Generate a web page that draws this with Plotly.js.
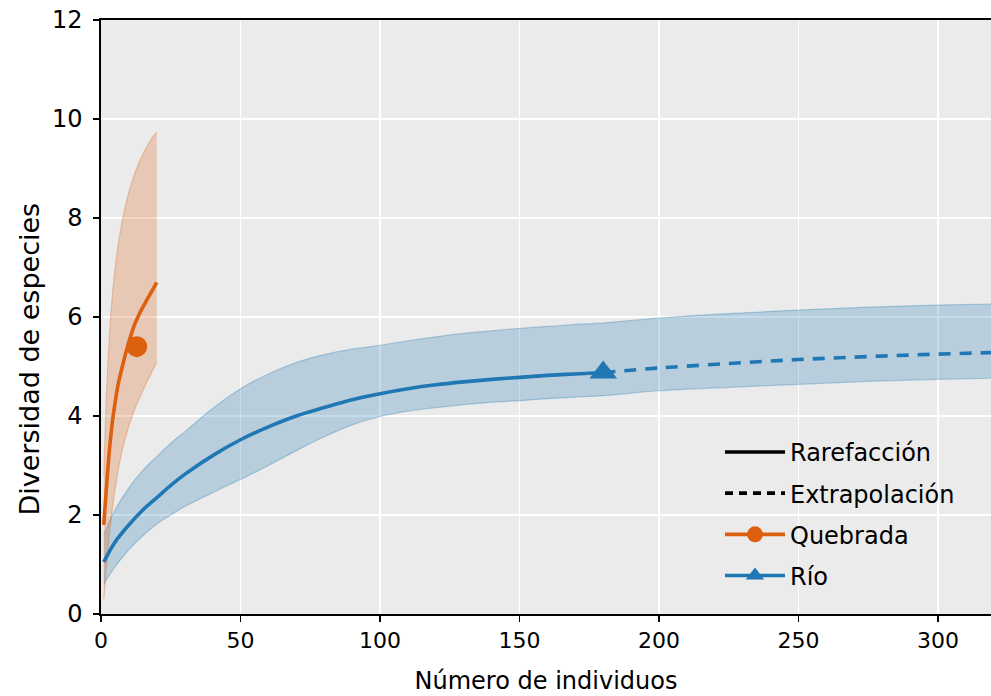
<!DOCTYPE html>
<html>
<head>
<meta charset="utf-8">
<script src="https://cdn.plot.ly/plotly-3.0.1.min.js"></script>
<style>
  html, body { margin: 0; padding: 0; background: #ffffff; }
  #chart { width: 991px; height: 696px; }
</style>
</head>
<body>
<div id="chart"></div>
<script>
// ---- Data ----
// Quebrada (rarefaction)
const quebradaX     = [1, 2, 3, 4, 5, 6, 7, 8, 9, 10, 11, 12, 13, 14, 15, 16, 17, 18, 19, 20];
const quebradaY     = [1.8, 2.6, 3.3, 3.85, 4.25, 4.6, 4.85, 5.08, 5.3, 5.5, 5.68, 5.84, 5.97, 6.09, 6.2, 6.3, 6.4, 6.5, 6.6, 6.7];
const quebradaUpper = [2.8, 4.5, 5.6, 6.4, 6.95, 7.4, 7.75, 8.05, 8.3, 8.52, 8.71, 8.88, 9.03, 9.17, 9.29, 9.4, 9.5, 9.59, 9.67, 9.73];
const quebradaLower = [0.3, 1.0, 1.6, 2.1, 2.5, 2.85, 3.15, 3.4, 3.6, 3.8, 3.97, 4.12, 4.26, 4.39, 4.51, 4.63, 4.75, 4.86, 4.98, 5.1];
const quebradaObsX  = [12.8];
const quebradaObsY  = [5.4];

// Río (rarefaction)
const rioRareX     = [1, 5, 10, 15, 20, 25, 30, 40, 50, 60, 70, 80, 90, 100, 110, 120, 130, 140, 150, 160, 170, 180];
const rioRareY     = [1.05, 1.45, 1.8, 2.1, 2.35, 2.6, 2.82, 3.2, 3.52, 3.78, 4.0, 4.17, 4.33, 4.45, 4.55, 4.63, 4.69, 4.74, 4.78, 4.82, 4.85, 4.88];
const rioRareUpper = [1.6, 2.1, 2.55, 2.9, 3.18, 3.45, 3.68, 4.15, 4.55, 4.85, 5.08, 5.24, 5.35, 5.43, 5.52, 5.6, 5.67, 5.72, 5.77, 5.81, 5.85, 5.88];
const rioRareLower = [0.6, 0.95, 1.3, 1.58, 1.82, 2.0, 2.17, 2.45, 2.72, 3.0, 3.3, 3.58, 3.82, 3.99, 4.1, 4.17, 4.23, 4.28, 4.31, 4.35, 4.38, 4.41];
// Río (extrapolation)
const rioExtX     = [180, 200, 225, 250, 275, 300, 325, 350, 360];
const rioExtY     = [4.88, 4.97, 5.06, 5.14, 5.2, 5.25, 5.29, 5.32, 5.33];
const rioExtUpper = [5.88, 5.98, 6.07, 6.14, 6.2, 6.24, 6.27, 6.29, 6.3];
const rioExtLower = [4.41, 4.51, 4.58, 4.64, 4.7, 4.74, 4.77, 4.79, 4.8];
const rioObsX = [180];
const rioObsY = [4.88];

// Ticks / labels
const xTicks = [0, 50, 100, 150, 200, 250, 300];
const yTicks = [0, 2, 4, 6, 8, 10, 12];
const legendLabels = ['Rarefacción', 'Extrapolación', 'Quebrada', 'Río'];
const xTitle = 'Número de individuos';
const yTitle = 'Diversidad de especies';

// ---- Styles ----
const ORANGE = '#dd6010';
const BLUE = '#1f77b4';
const FONT = 'DejaVu Sans, sans-serif';

const rioBandX = rioRareX.concat(rioExtX.slice(1));
const rioBandUp = rioRareUpper.concat(rioExtUpper.slice(1));
const rioBandLo = rioRareLower.concat(rioExtLower.slice(1));

const traces = [
  // Río band
  { x: rioBandX, y: rioBandLo, type: 'scatter', mode: 'lines',
    line: { color: 'rgba(31,119,180,0.3)', width: 1.2, shape: 'spline' },
    showlegend: false, hoverinfo: 'skip' },
  { x: rioBandX, y: rioBandUp, type: 'scatter', mode: 'lines', fill: 'tonexty',
    fillcolor: 'rgba(31,119,180,0.25)', line: { color: 'rgba(31,119,180,0.3)', width: 1.2, shape: 'spline' },
    showlegend: false, hoverinfo: 'skip' },
  // Quebrada band
  { x: quebradaX, y: quebradaLower, type: 'scatter', mode: 'lines',
    line: { color: 'rgba(221,96,16,0.3)', width: 1.2, shape: 'spline' },
    showlegend: false, hoverinfo: 'skip' },
  { x: quebradaX, y: quebradaUpper, type: 'scatter', mode: 'lines', fill: 'tonexty',
    fillcolor: 'rgba(221,96,16,0.25)', line: { color: 'rgba(221,96,16,0.3)', width: 1.2, shape: 'spline' },
    showlegend: false, hoverinfo: 'skip' },
  // Lines
  { x: rioRareX, y: rioRareY, type: 'scatter', mode: 'lines',
    line: { color: BLUE, width: 3.6, shape: 'spline' }, showlegend: false },
  { x: rioExtX, y: rioExtY, type: 'scatter', mode: 'lines',
    line: { color: BLUE, width: 3.6, dash: '12px,9px', shape: 'spline' }, showlegend: false },
  { x: quebradaX, y: quebradaY, type: 'scatter', mode: 'lines',
    line: { color: ORANGE, width: 3.6, shape: 'spline' }, showlegend: false },
  { x: quebradaObsX, y: quebradaObsY, type: 'scatter', mode: 'markers',
    marker: { color: ORANGE, size: 21, symbol: 'circle' }, showlegend: false },
  { x: rioObsX, y: rioObsY, type: 'scatter', mode: 'markers',
    marker: { color: BLUE, size: 24, symbol: 'triangle-up' }, showlegend: false },
  // legend entries
  { x: [null], y: [null], type: 'scatter', mode: 'lines', name: legendLabels[0],
    line: { color: '#000000', width: 3.6 }, legendgroup: 'a' },
  { x: [null], y: [null], type: 'scatter', mode: 'lines', name: legendLabels[1],
    line: { color: '#000000', width: 3.6, dash: '8px,6px' }, legendgroup: 'b' },
  { x: [null], y: [null], type: 'scatter', mode: 'lines+markers', name: legendLabels[2],
    line: { color: ORANGE, width: 3.6 }, marker: { color: ORANGE, size: 16, symbol: 'circle' }, legendgroup: 'c' },
  { x: [null], y: [null], type: 'scatter', mode: 'lines+markers', name: legendLabels[3],
    line: { color: BLUE, width: 3.6 }, marker: { color: BLUE, size: 18, symbol: 'triangle-up' }, legendgroup: 'd' }
];

const layout = {
  width: 991, height: 696,
  margin: { l: 101, r: 0, t: 20, b: 82, pad: 0 },
  paper_bgcolor: '#ffffff',
  plot_bgcolor: '#ebebeb',
  font: { family: FONT, size: 22, color: '#000000' },
  showlegend: true,
  legend: {
    x: 0.6955, y: 0.31, xanchor: 'left', yanchor: 'top',
    bgcolor: 'rgba(0,0,0,0)', borderwidth: 0,
    font: { family: FONT, size: 24, color: '#000000' },
    tracegroupgap: 7, traceorder: 'grouped', itemwidth: 60
  },
  xaxis: {
    range: [0, 319], tickvals: xTicks, ticktext: xTicks.map(String),
    showgrid: true, gridcolor: '#ffffff', gridwidth: 1.6, zeroline: false,
    showline: true, linecolor: '#000000', linewidth: 1.6, mirror: true,
    ticks: 'outside', ticklen: 6, tickwidth: 1.4, tickcolor: '#000000',
    tickfont: { family: FONT, size: 22, color: '#000000' },
    title: { text: xTitle, font: { family: FONT, size: 24, color: '#000000' }, standoff: 20 },
    automargin: false
  },
  yaxis: {
    range: [0, 12], tickvals: yTicks, ticktext: yTicks.map(String),
    showgrid: true, gridcolor: '#ffffff', gridwidth: 1.6, zeroline: false,
    showline: true, linecolor: '#000000', linewidth: 1.6, mirror: false,
    ticks: 'outside', ticklen: 6, tickwidth: 1.4, tickcolor: '#000000',
    ticklabelstandoff: 6,
    tickfont: { family: FONT, size: 24, color: '#000000' },
    automargin: false
  },
  annotations: [{
    text: yTitle, textangle: -90, showarrow: false,
    xref: 'paper', yref: 'paper', x: -0.0798, y: 0.43,
    xanchor: 'center', yanchor: 'middle',
    font: { family: FONT, size: 27, color: '#000000' }
  }]
};

Plotly.newPlot('chart', traces, layout, { displayModeBar: false, staticPlot: true });
</script>
</body>
</html>
